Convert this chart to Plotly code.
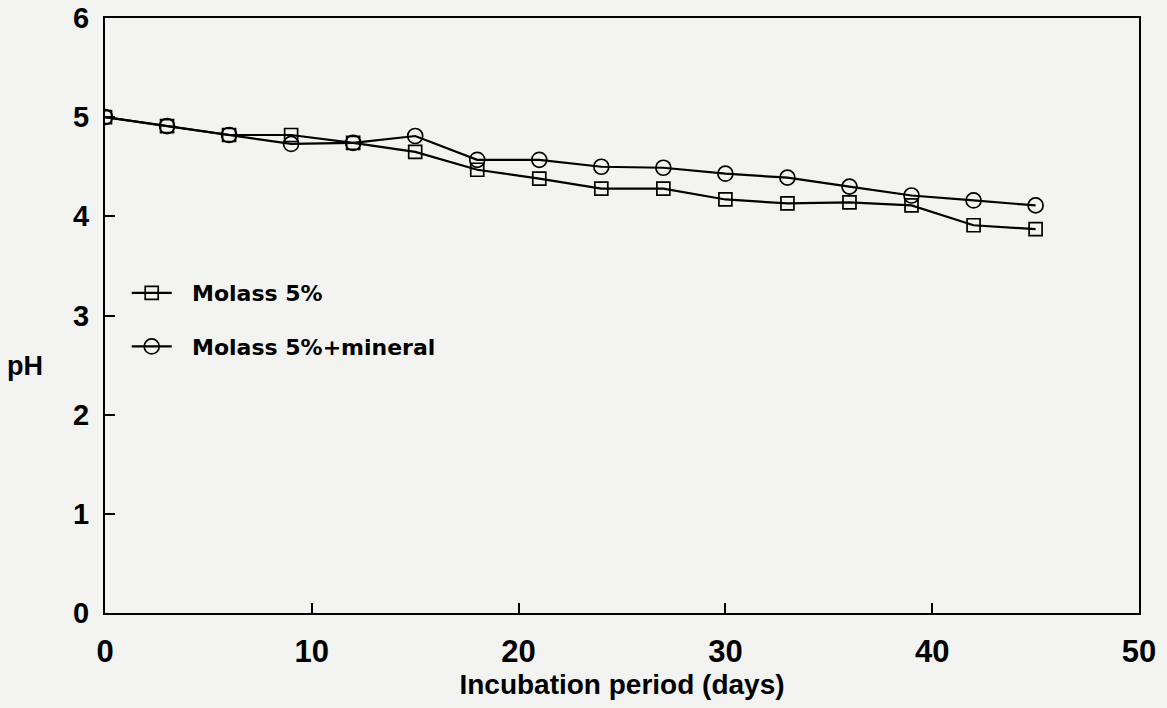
import plotly.graph_objects as go

days = [0, 3, 6, 9, 12, 15, 18, 21, 24, 27, 30, 33, 36, 39, 42, 45]
ph_molass = [5.0, 4.91, 4.82, 4.82, 4.74, 4.65, 4.47, 4.38, 4.28, 4.28, 4.17, 4.13, 4.14, 4.11, 3.91, 3.87]
ph_molass_mineral = [5.0, 4.91, 4.82, 4.73, 4.74, 4.81, 4.57, 4.57, 4.50, 4.49, 4.43, 4.39, 4.30, 4.21, 4.16, 4.11]
x_ticks = [0, 10, 20, 30, 40, 50]
y_ticks = [0, 1, 2, 3, 4, 5, 6]
series_names = ["Molass 5%", "Molass 5%+mineral"]

FONT = "Liberation Sans, Arial, sans-serif"
WIDE = "DejaVu Sans, Verdana, sans-serif"
BG = "#f3f3f1"
PAD = "\u00a0\u00a0"

fig = go.Figure()
fig.add_trace(go.Scatter(
    x=days, y=ph_molass, name=PAD + series_names[0], mode="lines+markers", legendgroup="a",
    line=dict(color="black", width=2.2),
    marker=dict(symbol="square-open", size=13, color="black", line=dict(width=1.7)),
))
fig.add_trace(go.Scatter(
    x=days, y=ph_molass_mineral, name=PAD + series_names[1], mode="lines+markers", legendgroup="b",
    line=dict(color="black", width=2.2),
    marker=dict(symbol="circle-open", size=15, color="black", line=dict(width=1.7)),
))

axis_common = dict(
    showgrid=False, zeroline=False, showline=True, linecolor="black", linewidth=2,
    mirror=True, ticks="inside", ticklen=10, tickwidth=2, tickcolor="black",
    automargin=False,
)

fig.update_layout(
    width=1167, height=708,
    margin=dict(l=105, r=28, t=18, b=95),
    paper_bgcolor=BG, plot_bgcolor=BG,
    showlegend=True,
    legend=dict(
        x=0.021, y=0.573, xanchor="left", yanchor="top",
        bgcolor="rgba(0,0,0,0)", borderwidth=0,
        font=dict(family=WIDE, size=22, color="black", weight="bold"),
        tracegroupgap=22, itemwidth=40,
    ),
    xaxis=dict(
        range=[0, 50], tickvals=x_ticks, ticktext=[str(v) for v in x_ticks],
        ticklabelstandoff=10,
        tickfont=dict(family=FONT, size=31, color="black", weight="bold"),
        title=dict(text="Incubation period (days)", standoff=2,
                   font=dict(family=FONT, size=28, color="black", weight="bold")),
        **axis_common,
    ),
    yaxis=dict(
        range=[0, 6], tickvals=y_ticks, ticktext=[str(v) for v in y_ticks],
        ticklabelstandoff=8,
        tickfont=dict(family=FONT, size=29, color="black", weight="bold"),
        **axis_common,
    ),
    annotations=[dict(
        text="pH", x=-0.077, y=0.415, xref="paper", yref="paper", showarrow=False,
        font=dict(family=FONT, size=27, color="black", weight="bold"),
        xanchor="center", yanchor="middle",
    )],
)

fig.write_html("out.html")
